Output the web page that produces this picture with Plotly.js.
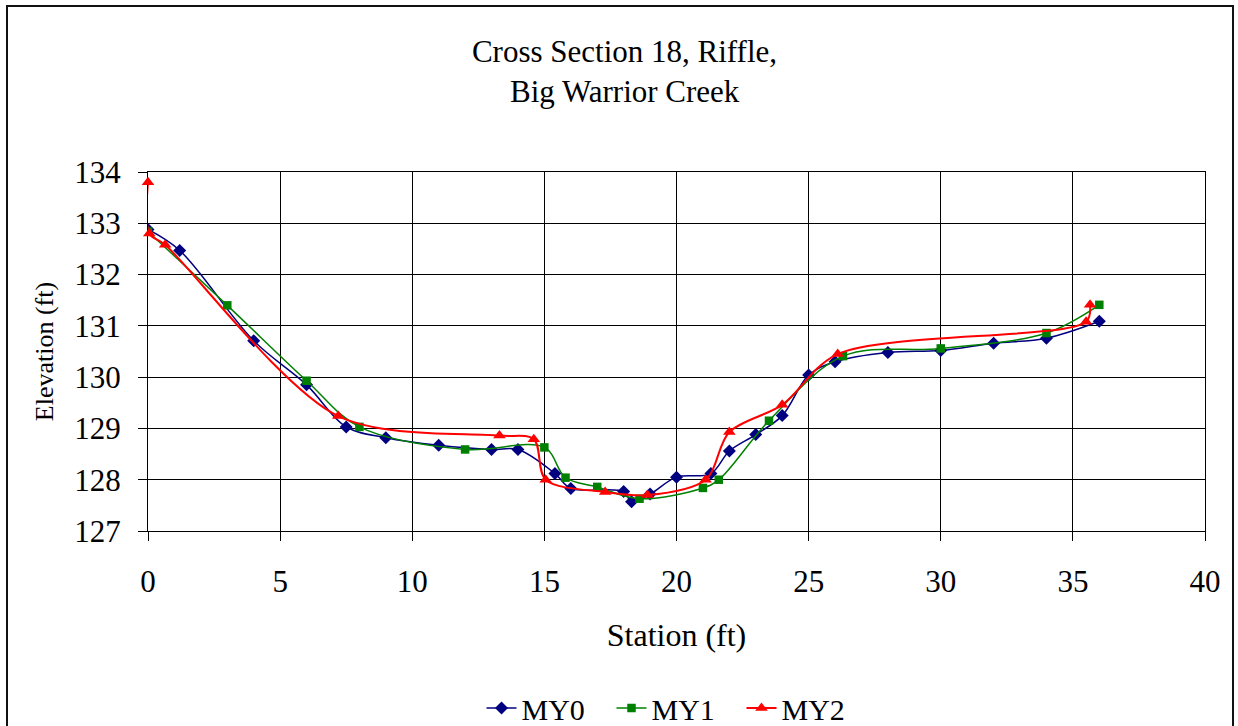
<!DOCTYPE html>
<html>
<head>
<meta charset="utf-8">
<script src="https://cdn.plot.ly/plotly-3.0.1.min.js"></script>
<style>
  html, body { margin: 0; padding: 0; background: #fff; }
  #chart { width: 1238px; height: 726px; }
  #frame { position: absolute; left: 6px; top: 5px; width: 1224px; height: 760px; border: 2px solid #111; pointer-events: none; }
</style>
</head>
<body>
<div id="chart"></div>
<div id="frame"></div>
<script>
// MY0
const my0X = [0, 1.2, 4, 6, 7.5, 9, 11, 13, 14, 15.4, 16, 18, 18.3, 19, 20, 21.3, 22, 23, 24, 25, 26, 28, 30, 32, 34, 36];
const my0Y = [132.88, 132.47, 130.71, 129.85, 129.03, 128.82, 128.67, 128.59, 128.59, 128.12, 127.83, 127.77, 127.57, 127.72, 128.05, 128.12, 128.56, 128.88, 129.25, 130.04, 130.3, 130.48, 130.52, 130.66, 130.76, 131.09];
// MY1
const my1X = [0, 3, 6, 8, 12, 15, 15.8, 17, 18.6, 21, 21.6, 23.5, 26.3, 30, 34, 36];
const my1Y = [132.84, 131.4, 129.93, 129.03, 128.59, 128.63, 128.04, 127.86, 127.63, 127.84, 128.0, 129.15, 130.41, 130.56, 130.86, 131.41];
// MY2
const my2X = [0, 0.05, 0.65, 7.2, 13.3, 14.6, 15.05, 17.3, 18.9, 21.1, 22, 24, 26.1, 35.5, 35.65];
const my2Y = [133.8, 132.8, 132.58, 129.24, 128.86, 128.79, 128.0, 127.76, 127.7, 128.0, 128.93, 129.46, 130.45, 131.08, 131.41];

const xTicks = [0, 5, 10, 15, 20, 25, 30, 35, 40];
const yTicks = [127, 128, 129, 130, 131, 132, 133, 134];
const titleLines = ['Cross Section 18, Riffle,', 'Big Warrior Creek'];

const font = 'Liberation Serif';

const traces = [
  { x: my0X, y: my0Y, name: 'MY0', mode: 'lines+markers', type: 'scatter',
    line: { color: '#000080', width: 1.5, shape: 'spline', smoothing: 1 },
    marker: { symbol: 'diamond', size: 10, color: '#000080' } },
  { x: my1X, y: my1Y, name: 'MY1', mode: 'lines+markers', type: 'scatter',
    line: { color: '#008000', width: 1.5, shape: 'spline', smoothing: 1 },
    marker: { symbol: 'square', size: 8.5, color: '#008000' } },
  { x: my2X, y: my2Y, name: 'MY2', mode: 'lines+markers', type: 'scatter', cliponaxis: false,
    line: { color: '#FF0000', width: 2, shape: 'spline', smoothing: 0.9 },
    marker: { symbol: 'triangle-up', size: 11, color: '#FF0000' } }
];

const layout = {
  width: 1238, height: 726,
  margin: { l: 148, r: 33, t: 172, b: 195, autoexpand: false },
  paper_bgcolor: '#fff', plot_bgcolor: '#fff',
  font: { family: font, color: '#000', size: 30 },
  title: { text: titleLines[0], font: { family: font, size: 31, color: '#000' },
           x: 624.5 / 1238, xref: 'container', xanchor: 'center', y: 1 - 51 / 726, yref: 'container', yanchor: 'middle' },
  annotations: [
    { text: titleLines[1], xref: 'paper', yref: 'paper', x: (624.5 - 148) / 1057, y: (531 - 91) / 359,
      xanchor: 'center', yanchor: 'middle', showarrow: false, font: { family: font, size: 31, color: '#000' } }
  ],
  xaxis: {
    range: [0, 40], tickvals: xTicks, ticktext: xTicks.map(String), automargin: false, layer: 'below traces',
    showgrid: true, gridcolor: '#000', gridwidth: 1,
    zeroline: false, showline: true, linecolor: '#000', linewidth: 1, mirror: true,
    ticks: 'outside', ticklen: 9, tickcolor: '#000', ticklabelstandoff: 14,
    tickfont: { family: font, size: 31, color: '#000' },
    title: { text: 'Station (ft)', font: { family: font, size: 32, color: '#000' }, standoff: 25 }
  },
  yaxis: {
    range: [127, 134], tickvals: yTicks, ticktext: yTicks.map(String), automargin: false, layer: 'below traces',
    showgrid: true, gridcolor: '#000', gridwidth: 1,
    zeroline: false, showline: true, linecolor: '#000', linewidth: 1, mirror: true,
    ticks: 'outside', ticklen: 9, tickcolor: '#000', ticklabelstandoff: 11,
    tickfont: { family: font, size: 31, color: '#000' },
    title: { text: 'Elevation (ft)', font: { family: font, size: 26, color: '#000' }, standoff: 13 }
  },
  showlegend: true,
  legend: { orientation: 'h', x: 0.5, xanchor: 'center', xref: 'paper', y: (726 - 708) / 726, yref: 'container', yanchor: 'middle',
            font: { family: font, size: 30, color: '#000' }, bgcolor: 'rgba(0,0,0,0)', itemwidth: 30,
            entrywidth: 85, entrywidthmode: 'pixels' }
};

Plotly.newPlot('chart', traces, layout, { displayModeBar: false, staticPlot: true });
</script>
</body>
</html>
